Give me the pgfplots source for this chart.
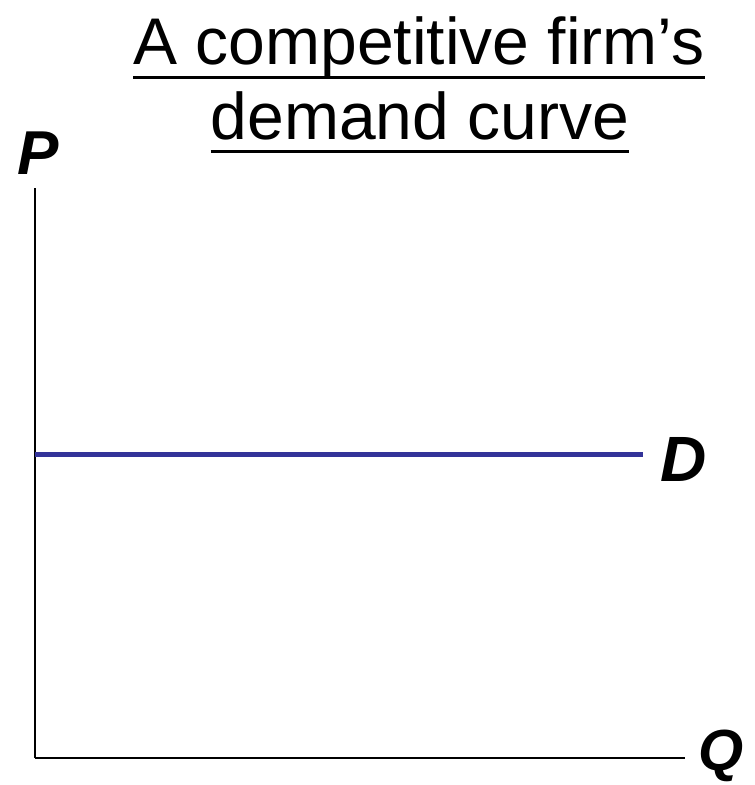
\documentclass[border=0pt]{standalone}
\usepackage{fontspec}
\setmainfont{Liberation Sans}
\usepackage{pgfplots}
\pgfplotsset{compat=1.18}
\definecolor{dcurve}{HTML}{333399}

\begin{document}
\begin{tikzpicture}
\path[use as bounding box] (-35pt,-27pt) rectangle (720pt,758pt);
\begin{axis}[
    scale only axis,
    width=650pt, height=570pt,
    xmin=0, xmax=650, ymin=0, ymax=570,
    axis x line=bottom, axis y line=left,
    axis line style={-, line width=2pt, black},
    ticks=none,
    clip=false,
]
\addplot[dcurve, line width=5pt] coordinates {(0,303) (608,303)};
\node[anchor=base, inner sep=0pt, font=\fontsize{66}{66}\selectfont] (t1) at (axis cs:384,693) {A competitive firm’s};
\node[anchor=base, inner sep=0pt, font=\fontsize{66}{66}\selectfont] (t2) at (axis cs:385,618) {demand curve};
\node[anchor=base, font=\fontsize{62}{62}\selectfont\bfseries\itshape] at (axis cs:3,583) {P};
\node[anchor=base, font=\fontsize{64}{64}\selectfont\bfseries\itshape] at (axis cs:649,276) {D};
\node[anchor=base, inner sep=0pt, font=\fontsize{58}{58}\selectfont\bfseries\itshape] at (axis cs:686,-12) {Q};
\end{axis}
\draw[line width=3pt] ([yshift=-13pt]t1.base west) -- ([yshift=-13pt]t1.base east);
\draw[line width=3pt] ([yshift=-12pt]t2.base west) -- ([yshift=-12pt]t2.base east);
\end{tikzpicture}
\end{document}
